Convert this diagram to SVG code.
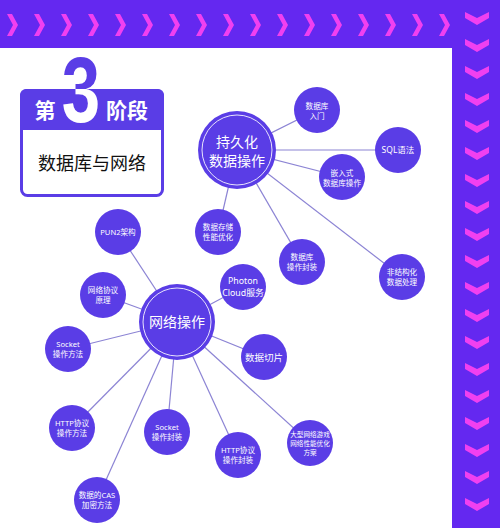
<svg xmlns="http://www.w3.org/2000/svg" width="500" height="528" viewBox="0 0 500 528">
<style>
.band{fill:#6428f0}
.chev{fill:#f040f0}
.link{stroke:#8c84d4;stroke-width:1.2;fill:none}
.node{fill:#5a3de6}
.hub{fill:#5a3de6}
.ring{fill:none;stroke:#ffffff;stroke-width:1;opacity:0.85}
.t{font-family:"Noto Sans","Noto Sans CJK SC",sans-serif;fill:#ffffff;text-anchor:middle}
.s{font-size:7.6px}
.h{font-size:14px}
</style>
<defs>
<polygon id="cr" points="-5,-11 0,-11 6,0 0,11 -5,11 1,0"/>
<polygon id="cd" points="-12,-6 0,0 12,-6 12,0 0,7 -12,0"/>
<clipPath id="bandclip"><rect x="20" y="89" width="144" height="41"/></clipPath>
</defs>
<rect width="500" height="528" fill="#ffffff"/>
<g id="frame">
<rect class="band" x="0" y="0" width="500" height="48"/>
<rect class="band" x="452" y="0" width="48" height="528"/>
<g class="chev">
<use href="#cr" x="12" y="25"/><use href="#cr" x="39" y="25"/><use href="#cr" x="66" y="25"/><use href="#cr" x="93" y="25"/><use href="#cr" x="120" y="25"/><use href="#cr" x="147" y="25"/><use href="#cr" x="174" y="25"/><use href="#cr" x="201" y="25"/><use href="#cr" x="228" y="25"/><use href="#cr" x="255" y="25"/><use href="#cr" x="282" y="25"/><use href="#cr" x="309" y="25"/><use href="#cr" x="336" y="25"/><use href="#cr" x="363" y="25"/><use href="#cr" x="390" y="25"/><use href="#cr" x="417" y="25"/><use href="#cr" x="444" y="25"/>
<use href="#cd" x="477" y="18"/><use href="#cd" x="477" y="45"/><use href="#cd" x="477" y="72"/><use href="#cd" x="477" y="99"/><use href="#cd" x="477" y="126"/><use href="#cd" x="477" y="153"/><use href="#cd" x="477" y="180"/><use href="#cd" x="477" y="207"/><use href="#cd" x="477" y="234"/><use href="#cd" x="477" y="261"/><use href="#cd" x="477" y="288"/><use href="#cd" x="477" y="315"/><use href="#cd" x="477" y="342"/><use href="#cd" x="477" y="369"/><use href="#cd" x="477" y="396"/><use href="#cd" x="477" y="423"/><use href="#cd" x="477" y="450"/><use href="#cd" x="477" y="477"/><use href="#cd" x="477" y="504"/>
</g>
</g>
<g id="title">
<rect x="21.5" y="90.5" width="141" height="105" rx="6" fill="#ffffff" stroke="#5a3de6" stroke-width="3"/>
<path d="M20,130 V95 a6,6 0 0 1 6,-6 H158 a6,6 0 0 1 6,6 V130 Z" fill="#5a3de6"/>
<text x="81" y="122" font-family="'Liberation Sans',sans-serif" font-weight="bold" font-size="92" fill="#5a3de6" text-anchor="middle" transform="translate(81 0) scale(0.75 1) translate(-81 0)">3</text>
<g clip-path="url(#bandclip)">
<text x="81" y="122" font-family="'Liberation Sans',sans-serif" font-weight="bold" font-size="92" fill="#ffffff" text-anchor="middle" transform="translate(81 0) scale(0.75 1) translate(-81 0)">3</text>
</g>
<text x="45" y="118" font-family="'Noto Sans CJK SC',sans-serif" font-weight="bold" font-size="21" fill="#ffffff" text-anchor="middle">第</text>
<text x="127" y="118" font-family="'Noto Sans CJK SC',sans-serif" font-weight="bold" font-size="21" fill="#ffffff" text-anchor="middle">阶段</text>
<text x="92" y="170" font-family="'Noto Sans CJK SC',sans-serif" font-size="18" fill="#111111" text-anchor="middle">数据库与网络</text>
</g>
<g id="connectors">
<line class="link" x1="237" y1="150" x2="317" y2="110"/>
<line class="link" x1="237" y1="150" x2="398" y2="150"/>
<line class="link" x1="237" y1="150" x2="342" y2="177"/>
<line class="link" x1="237" y1="150" x2="218" y2="232"/>
<line class="link" x1="237" y1="150" x2="302" y2="262"/>
<line class="link" x1="237" y1="150" x2="402" y2="277"/>
<line class="link" x1="177" y1="322" x2="118" y2="232"/>
<line class="link" x1="177" y1="322" x2="103" y2="295"/>
<line class="link" x1="177" y1="322" x2="68" y2="349"/>
<line class="link" x1="177" y1="322" x2="243" y2="287"/>
<line class="link" x1="177" y1="322" x2="264" y2="357"/>
<line class="link" x1="177" y1="322" x2="72" y2="428"/>
<line class="link" x1="177" y1="322" x2="167" y2="432"/>
<line class="link" x1="177" y1="322" x2="238" y2="455"/>
<line class="link" x1="177" y1="322" x2="310" y2="443"/>
<line class="link" x1="177" y1="322" x2="97" y2="500"/>
</g>
<g id="hub1"><circle class="hub" cx="237" cy="150" r="39"/><circle class="ring" cx="237" cy="150" r="35"/><text class="t h" x="237" y="147">持久化</text><text class="t h" x="237" y="166">数据操作</text></g>
<g id="hub2"><circle class="hub" cx="177" cy="322" r="38"/><circle class="ring" cx="177" cy="322" r="34"/><text class="t h" x="177" y="327">网络操作</text></g>
<g id="n-db-intro"><circle class="node" cx="317" cy="110" r="23"/><text class="t s" x="317" y="109">数据库</text><text class="t s" x="317" y="119">入门</text></g>
<g id="n-sql"><circle class="node" cx="398" cy="150" r="23"/><text class="t" font-size="8.5" x="398" y="153">SQL语法</text></g>
<g id="n-embedded"><circle class="node" cx="342" cy="177" r="23"/><text class="t s" x="342" y="176">嵌入式</text><text class="t s" x="342" y="186">数据库操作</text></g>
<g id="n-storage"><circle class="node" cx="218" cy="232" r="23"/><text class="t s" x="218" y="230">数据存储</text><text class="t s" x="218" y="240">性能优化</text></g>
<g id="n-db-wrap"><circle class="node" cx="302" cy="262" r="23"/><text class="t s" x="302" y="260">数据库</text><text class="t s" x="302" y="270">操作封装</text></g>
<g id="n-unstructured"><circle class="node" cx="402" cy="277" r="23"/><text class="t s" x="402" y="275">非结构化</text><text class="t s" x="402" y="285">数据处理</text></g>
<g id="n-photon"><circle class="node" cx="243" cy="287" r="23"/><text class="t" font-size="8.8" x="243" y="283.5">Photon</text><text class="t" font-size="8.8" x="243" y="296">Cloud服务</text></g>
<g id="n-pun2"><circle class="node" cx="118" cy="232" r="23"/><text class="t s" x="118" y="235">PUN2架构</text></g>
<g id="n-protocol"><circle class="node" cx="103" cy="295" r="23"/><text class="t s" x="103" y="293">网络协议</text><text class="t s" x="103" y="303">原理</text></g>
<g id="n-socket-ops"><circle class="node" cx="68" cy="349" r="23"/><text class="t s" x="68" y="347">Socket</text><text class="t s" x="68" y="357">操作方法</text></g>
<g id="n-slice"><circle class="node" cx="264" cy="357" r="23"/><text class="t" font-size="9.5" x="264" y="361">数据切片</text></g>
<g id="n-http-ops"><circle class="node" cx="72" cy="428" r="23"/><text class="t s" x="72" y="426">HTTP协议</text><text class="t s" x="72" y="436">操作方法</text></g>
<g id="n-socket-wrap"><circle class="node" cx="167" cy="432" r="23"/><text class="t s" x="167" y="430">Socket</text><text class="t s" x="167" y="440">操作封装</text></g>
<g id="n-http-wrap"><circle class="node" cx="238" cy="455" r="23"/><text class="t s" x="238" y="453">HTTP协议</text><text class="t s" x="238" y="463">操作封装</text></g>
<g id="n-mmo"><circle class="node" cx="310" cy="443" r="23"/><text class="t" font-size="6.6" x="310" y="437">大型网络游戏</text><text class="t" font-size="6.6" x="310" y="446">网络性能优化</text><text class="t" font-size="6.6" x="310" y="455">方案</text></g>
<g id="n-cas"><circle class="node" cx="97" cy="500" r="23"/><text class="t s" x="97" y="498">数据的CAS</text><text class="t s" x="97" y="508">加密方法</text></g>
</svg>
